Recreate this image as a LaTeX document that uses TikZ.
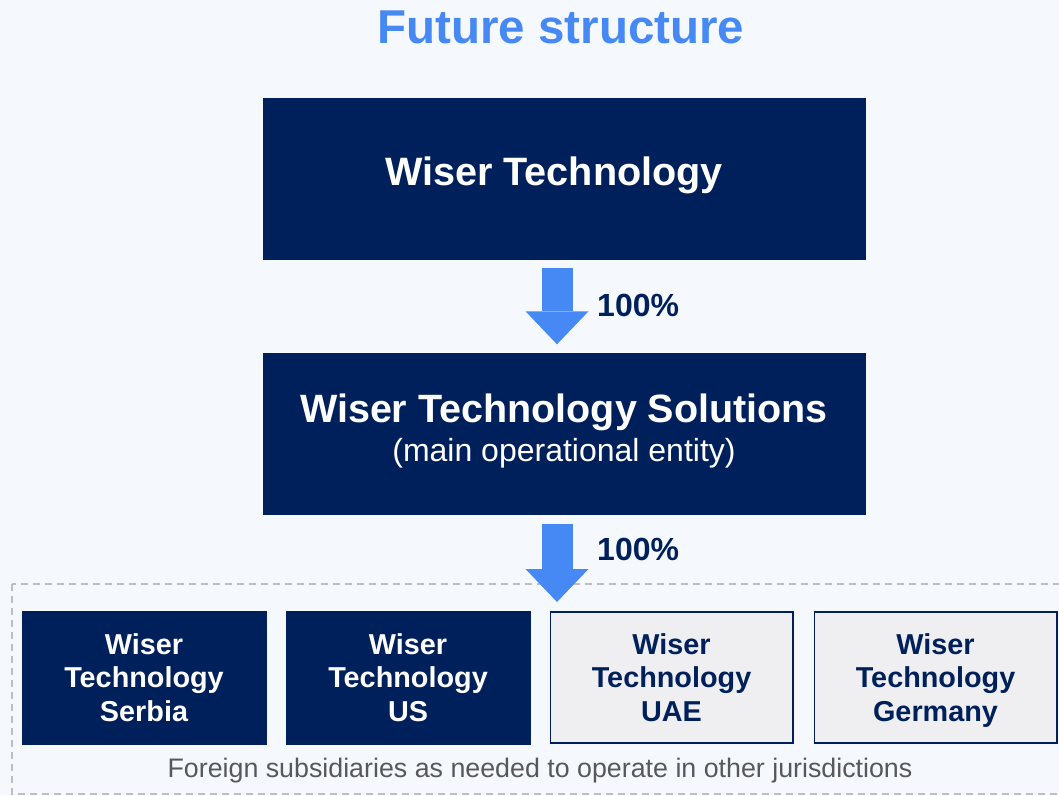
\documentclass[tikz,border=0pt]{standalone}
\usepackage{fontspec}
\setmainfont{Liberation Sans}
\usetikzlibrary{arrows.meta}

\definecolor{navy}{RGB}{0,32,91}
\definecolor{flowblue}{RGB}{70,137,245}
\definecolor{paleback}{RGB}{245,249,254}
\definecolor{lightbox}{RGB}{239,239,241}
\definecolor{captiongray}{RGB}{88,88,88}
\definecolor{dashgray}{RGB}{190,190,190}

\tikzset{
  bigbox/.style={fill=navy, draw=navy, text=white, align=center,
    minimum width=602pt, minimum height=161pt, inner sep=0pt},
  subbox/.style={align=center, inner sep=0pt, text depth=0pt,
    font=\fontsize{28.8}{33.7}\selectfont\bfseries},
  subdark/.style={subbox, fill=navy, draw=navy, text=white,
    minimum width=244pt, minimum height=133pt},
  sublight/.style={subbox, fill=lightbox, draw=navy, line width=1.6pt, text=navy,
    minimum width=242.4pt, minimum height=131.4pt},
  flow/.style={draw=flowblue, line width=31pt,
    -{Triangle[width=63pt,length=33pt,line width=0pt]},
    shorten <=9pt, shorten >=9pt},
  pct/.style={text=navy, font=\fontsize{32}{36}\selectfont\bfseries, anchor=west, inner sep=0pt},
}

\begin{document}
\begin{tikzpicture}[x=1pt,y=-1pt]
  % page background
  \fill[paleback] (0,0) rectangle (1059,795);
  \useasboundingbox (0,0) rectangle (1059,795);

  % heading
  \node[text=flowblue, font=\fontsize{47.5}{52}\selectfont\bfseries, anchor=base] (title) at (561,43) {Future structure};

  % holding chain
  \node[bigbox, text depth=14.4pt, font=\fontsize{39.6}{44}\selectfont\bfseries] (top) at (564,178.5)
    {Wiser Technology\kern20pt};
  \node[bigbox, text depth=13pt, font=\fontsize{32}{39}\selectfont] (mid) at (564,434)
    {{\fontsize{39.5}{39}\selectfont\bfseries Wiser Technology Solutions}\\(main operational entity)};

  % group of foreign subsidiaries
  \draw[dashgray, line width=1.3pt, dash pattern=on 7pt off 5pt] (12,584) rectangle (1064,794);
  \node[subdark] (serbia) at (144,677.5) {Wiser\\Technology\\Serbia};
  \node[subdark] (us) at (408,677.5) {Wiser\\Technology\\US};
  \node[sublight] (uae) at (671.5,677.5) {Wiser\\Technology\\UAE};
  \node[sublight] (germany) at (935.5,677.5) {Wiser\\Technology\\Germany};
  \node[text=captiongray, font=\fontsize{26.8}{30}\selectfont, anchor=base, inner sep=0pt] (caption) at (540,777.3)
    {Foreign subsidiaries as needed to operate in other jurisdictions};

  % ownership arrows
  \draw[flow] ([xshift=-7pt]top.south) -- ([xshift=-7pt]mid.north);
  \draw[flow] ([xshift=-7pt]mid.south) -- ([xshift=-7pt]mid.south |- uae.north);
  \node[pct] (pctA) at (597,305) {100\%};
  \node[pct] (pctB) at (597,549) {100\%};
\end{tikzpicture}
\end{document}
